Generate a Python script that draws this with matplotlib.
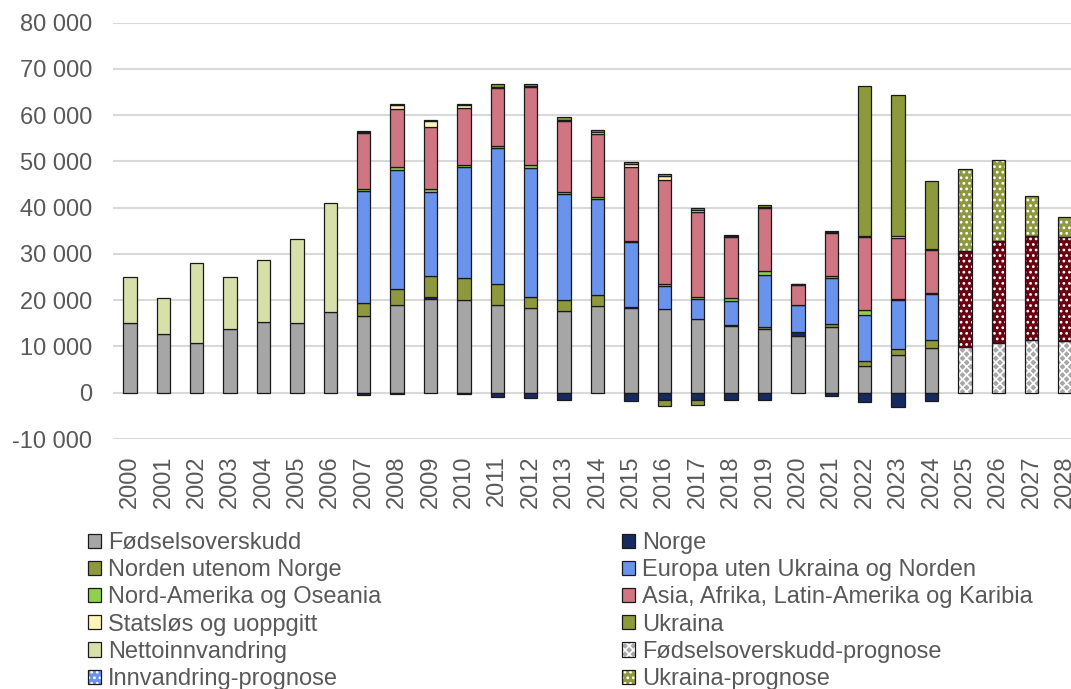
import numpy as np
import matplotlib.pyplot as plt
from matplotlib.patches import Patch
from matplotlib.ticker import FuncFormatter

plt.rcParams['font.family'] = ['Liberation Sans', 'DejaVu Sans']
plt.rcParams['hatch.linewidth'] = 1.2

# Årstall
years = list(range(2000, 2029))

# Historiske tall 2000-2024
fodsel = [15000, 12600, 10750, 13800, 15350, 15050, 17350, 16650, 18900, 20300,
          19950, 18900, 18300, 17700, 18700, 18300, 18150, 15950, 14350, 13750,
          12300, 14250, 5750, 8150, 9650]
# Kun total nettoinnvandring 2000-2006
netto_innv = [10000, 7900, 17200, 11150, 13250, 18250, 23650]

# Nettoinnvandring etter landbakgrunn 2007-2024
norge = [-500, -300, 400, -300, -900, -1200, -1650, 0, -1800, -1650,
         -1550, -1650, -1650, 750, -800, -2100, -3100, -1800]
norden = [2750, 3600, 4450, 4850, 4600, 2500, 2400, 2500, 300, -1300,
          -1050, 400, 450, 100, 700, 1150, 1300, 1750]
europa = [24200, 25650, 18350, 24000, 29400, 27800, 22850, 20750, 14000, 5000,
          4350, 5000, 11250, 5750, 9850, 9900, 10600, 9850]
nordam = [500, 550, 600, 400, 350, 700, 450, 350, 300, 300,
          400, 700, 950, 150, 450, 1000, 300, 300]
asia = [11950, 12700, 13350, 12350, 12650, 16850, 15400, 13650, 15900, 22600,
        18450, 13200, 13550, 4300, 9300, 15850, 13200, 9250]
statslos = [400, 850, 1200, 650, 300, 150, 250, 400, 700, 750,
            400, 200, 300, 150, 200, 300, 300, 300]
ukraina = [200, 250, 250, 300, 500, 500, 500, 500, 450, 400,
           350, 250, 400, 50, 200, 32400, 30500, 14750]

# Prognose 2025-2028
fodsel_prog = [9900, 10750, 11300, 11100]
innv_prog = [20850, 22050, 22500, 22550]
ukraina_prog = [17550, 17450, 8650, 4450]


def full(vals, start):
    # legg verdiene inn i en rad for alle år
    arr = np.zeros(len(years))
    i0 = years.index(start)
    arr[i0:i0 + len(vals)] = vals
    return arr


# (navn, verdier, farge, skravur)
serier = [
    ("Fødselsoverskudd", full(fodsel, 2000), "#a6a6a6", None),
    ("Norge", full(norge, 2007), "#162a60", None),
    ("Norden utenom Norge", full(norden, 2007), "#8e993e", None),
    ("Europa uten Ukraina og Norden", full(europa, 2007), "#6a93ec", None),
    ("Nord-Amerika og Oseania", full(nordam, 2007), "#8fd14f", None),
    ("Asia, Afrika, Latin-Amerika og Karibia", full(asia, 2007), "#d07582", None),
    ("Statsløs og uoppgitt", full(statslos, 2007), "#fff5b8", None),
    ("Ukraina", full(ukraina, 2007), "#8c9a3c", None),
    ("Nettoinnvandring", full(netto_innv, 2000), "#d8e0aa", None),
    ("Fødselsoverskudd-prognose", full(fodsel_prog, 2025), "#a8a8a8", "xxxx"),
    ("Innvandring-prognose", full(innv_prog, 2025), "#6b0011", "..."),
    ("Ukraina-prognose", full(ukraina_prog, 2025), "#8e993e", "..."),
]

W, H = 1071, 689
fig = plt.figure(figsize=(W / 100, H / 100), dpi=100)
ax = fig.add_axes([113.3 / W, 1 - 439 / H, (1081.7 - 113.3) / W, (439 - 22.7) / H])

x = np.array(years)
bredde = 0.4
pos = np.zeros(len(years))
neg = np.zeros(len(years))
handles = {}

for navn, vals, farge, hatch in serier:
    m = vals != 0
    bunn = np.where(vals >= 0, pos, neg)
    if hatch is None:
        ax.bar(x[m], vals[m], bredde, bottom=bunn[m], color=farge,
               edgecolor="#1a1a1a", linewidth=0.9, zorder=3)
        handles[navn] = Patch(facecolor=farge, edgecolor="#1a1a1a", linewidth=0.9)
    else:
        ax.bar(x[m], vals[m], bredde, bottom=bunn[m], color=farge,
               edgecolor="white", linewidth=0, hatch=hatch, zorder=3)
        ax.bar(x[m], vals[m], bredde, bottom=bunn[m], fill=False,
               edgecolor="#1a1a1a", linewidth=0.9, zorder=4)
        # legenden i originalen viser blått for innvandring-prognose
        lfarge = "#6a93ec" if navn == "Innvandring-prognose" else farge
        handles[navn] = (Patch(facecolor=lfarge, edgecolor="white", linewidth=0, hatch=hatch),
                         Patch(fill=False, edgecolor="#1a1a1a", linewidth=0.9))
    pos += np.clip(vals, 0, None)
    neg += np.clip(vals, None, 0)

ax.set_xlim(1999.5, 2028.5)
ax.set_ylim(-10000, 80000)
ax.set_yticks(np.arange(-10000, 80001, 10000))
ax.yaxis.set_major_formatter(FuncFormatter(lambda v, p: f"{int(v):,}".replace(",", " ")))
ax.set_xticks(x)
ax.set_xticklabels([str(y) for y in years], rotation=90)

tekstfarge = "#595959"
ax.tick_params(axis="both", length=0, labelsize=17, labelcolor=tekstfarge)
ax.tick_params(axis="x", pad=12)
ax.tick_params(axis="y", pad=15)
ax.grid(axis="y", color="#d9d9d9", linewidth=1.5, zorder=0)
ax.set_axisbelow(True)
for s in ax.spines.values():
    s.set_visible(False)

# Legende i to kolonner, lagd som to separate legender
navn_liste = [s[0] for s in serier]
venstre = navn_liste[0::2]
hoyre = navn_liste[1::2]
leg_kw = dict(loc="upper left", frameon=False, fontsize=17, labelcolor=tekstfarge,
              borderpad=0, borderaxespad=0, handlelength=0.55, handleheight=0.55,
              handletextpad=0.3, labelspacing=0.22)
fig.legend([handles[n] for n in venstre], venstre,
           bbox_to_anchor=(88 / W, 1 - 532 / H), **leg_kw)
fig.legend([handles[n] for n in hoyre], hoyre,
           bbox_to_anchor=(622 / W, 1 - 532 / H), **leg_kw)

fig.savefig("out.png", dpi=100)
